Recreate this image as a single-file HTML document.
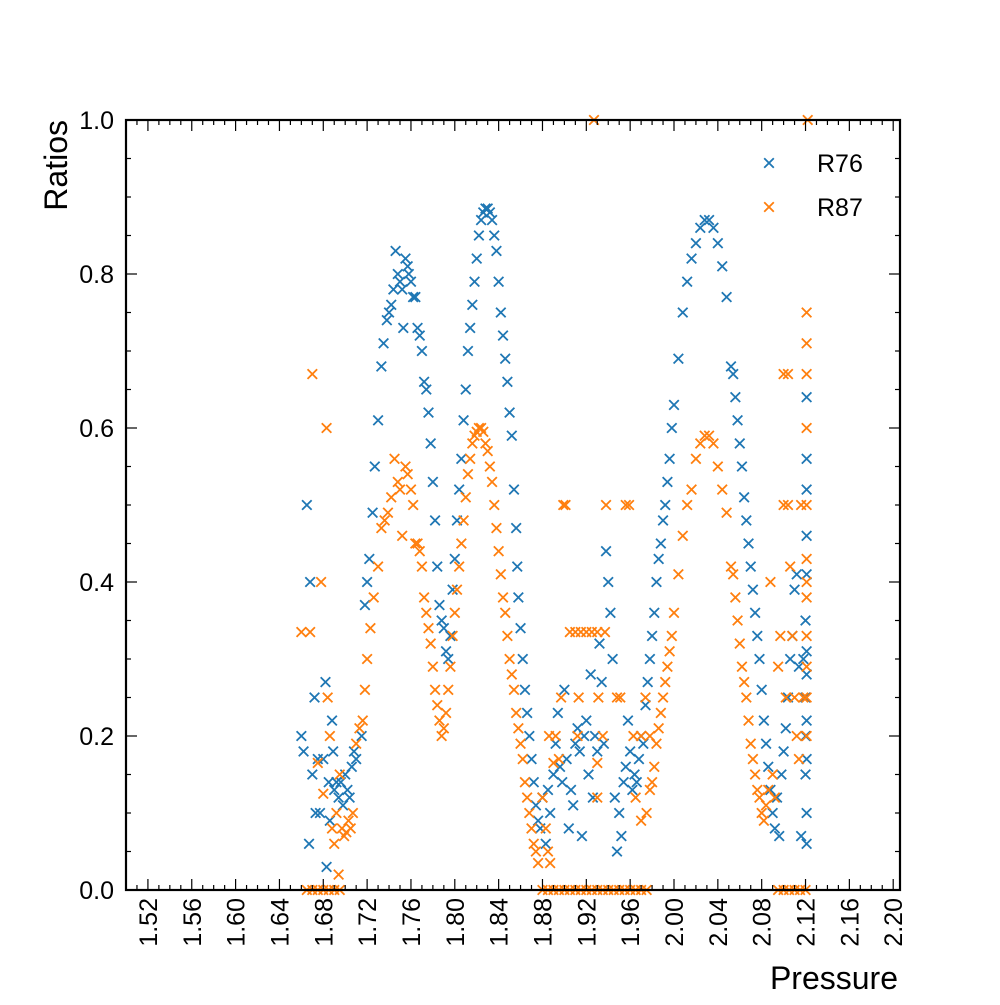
<!DOCTYPE html>
<html><head><meta charset="utf-8"><style>
body{margin:0;background:#fff}
svg text{font-family:"Liberation Sans",sans-serif;fill:#000}
</style></head><body>
<svg id="chart" width="1000" height="1000" xmlns="http://www.w3.org/2000/svg">
<g id="marks"></g><g id="axes"></g>
</svg>
<script>
const xTickLabels=["1.52","1.56","1.60","1.64","1.68","1.72","1.76","1.80","1.84","1.88","1.92","1.96","2.00","2.04","2.08","2.12","2.16","2.20"];
const yTickLabels=["0.0","0.2","0.4","0.6","0.8","1.0"];
const seriesNames=["R76","R87"];
const r76=[[1.660,0.20],[1.662,0.18],[1.665,0.50],[1.667,0.06],[1.668,0.40],[1.670,0.15],[1.672,0.25],[1.673,0.10],[1.675,0.17],[1.677,0.10],[1.680,0.17],[1.682,0.27],[1.683,0.03],[1.685,0.14],[1.686,0.09],[1.688,0.22],[1.689,0.18],[1.690,0.13],[1.692,0.14],[1.694,0.12],[1.696,0.14],[1.698,0.11],[1.700,0.15],[1.702,0.13],[1.704,0.12],[1.706,0.16],[1.708,0.18],[1.710,0.17],
[1.715,0.20],[1.718,0.37],[1.720,0.40],[1.722,0.43],[1.725,0.49],[1.727,0.55],[1.730,0.61],[1.733,0.68],[1.735,0.71],[1.738,0.74],[1.740,0.75],[1.742,0.76],[1.744,0.78],[1.746,0.83],[1.748,0.80],[1.750,0.79],[1.752,0.78],[1.753,0.73],[1.755,0.82],[1.757,0.81],[1.758,0.80],[1.760,0.79],[1.762,0.77],[1.764,0.77],[1.766,0.73],[1.768,0.72],[1.770,0.70],[1.772,0.66],[1.774,0.65],[1.776,0.62],[1.778,0.58],[1.780,0.53],[1.782,0.48],[1.784,0.42],[1.786,0.37],[1.788,0.35],[1.790,0.34],[1.792,0.31],[1.794,0.30],[1.796,0.33],[1.798,0.39],[1.800,0.43],[1.802,0.48],[1.804,0.52],[1.806,0.56],[1.808,0.61],[1.810,0.65],[1.812,0.70],[1.814,0.73],[1.816,0.76],[1.818,0.79],[1.820,0.82],[1.822,0.85],[1.824,0.87],[1.826,0.88],[1.828,0.885],[1.830,0.885],[1.832,0.88],[1.834,0.87],[1.836,0.85],[1.838,0.83],[1.840,0.79],[1.842,0.75],[1.844,0.72],[1.846,0.69],[1.848,0.66],[1.850,0.62],[1.852,0.59],[1.854,0.52],[1.856,0.47],[1.857,0.42],[1.858,0.38],[1.860,0.34],[1.862,0.30],[1.864,0.26],[1.866,0.23],[1.868,0.20],[1.870,0.17],[1.872,0.14],[1.874,0.11],[1.876,0.09],[1.878,0.08],
[1.880,0.12],[1.883,0.06],[1.885,0.13],[1.887,0.10],[1.890,0.15],[1.892,0.19],[1.894,0.23],[1.896,0.16],[1.898,0.14],[1.900,0.26],[1.902,0.17],[1.904,0.08],[1.906,0.13],[1.908,0.11],[1.910,0.19],[1.912,0.21],[1.914,0.18],[1.916,0.07],[1.918,0.20],[1.920,0.22],[1.922,0.15],[1.924,0.28],[1.926,0.12],[1.928,0.20],[1.930,0.18],[1.932,0.32],[1.934,0.27],[1.936,0.19],[1.938,0.44],[1.940,0.40],[1.942,0.36],[1.944,0.30],[1.946,0.12],[1.948,0.05],[1.950,0.10],[1.952,0.07],[1.954,0.14],[1.956,0.16],[1.958,0.22],[1.960,0.18],[1.962,0.13],[1.964,0.15],[1.966,0.14],[1.968,0.17],[1.970,0.20],[1.972,0.19],[1.974,0.24],[1.976,0.27],
[1.978,0.30],[1.980,0.33],[1.982,0.36],[1.984,0.40],[1.986,0.43],[1.988,0.45],[1.990,0.48],[1.992,0.50],[1.994,0.53],[1.996,0.56],[1.998,0.60],[2.000,0.63],[2.004,0.69],[2.008,0.75],[2.012,0.79],[2.016,0.82],[2.020,0.84],[2.024,0.86],[2.028,0.87],[2.032,0.87],[2.036,0.86],[2.040,0.84],[2.044,0.81],[2.048,0.77],[2.052,0.68],[2.054,0.67],[2.056,0.64],[2.058,0.61],[2.060,0.58],[2.062,0.55],[2.064,0.51],[2.066,0.48],[2.068,0.45],[2.070,0.42],[2.072,0.39],[2.074,0.36],[2.076,0.33],[2.078,0.30],[2.080,0.26],[2.082,0.22],[2.084,0.19],[2.086,0.16],[2.088,0.13],[2.090,0.10],[2.092,0.08],[2.094,0.12],[2.096,0.07],[2.098,0.15],[2.100,0.18],[2.102,0.21],[2.104,0.25],[2.106,0.30],[2.108,0.33],[2.110,0.39],[2.112,0.41],[2.114,0.29],[2.116,0.07],[2.118,0.30],[2.120,0.35],[2.120,0.25],[2.120,0.20],[2.120,0.15],[2.121,0.64],[2.121,0.56],[2.121,0.46],[2.121,0.41],[2.121,0.31],[2.121,0.10],[2.121,0.06],[2.121,0.52],[2.121,0.28],[2.121,0.22],[2.121,0.17]];
const r87=[[1.660,0.335],[1.668,0.335],[1.670,0.67],[1.675,0.165],[1.678,0.40],[1.680,0.125],[1.683,0.60],[1.684,0.25],[1.686,0.20],[1.688,0.08],[1.690,0.06],[1.692,0.10],[1.694,0.02],[1.695,0.15],[1.697,0.08],[1.699,0.07],[1.701,0.075],[1.703,0.09],[1.705,0.08],[1.707,0.10],[1.710,0.19],[1.713,0.21],[1.716,0.22],[1.718,0.26],[1.720,0.30],[1.723,0.34],[1.726,0.38],[1.730,0.42],[1.733,0.47],[1.736,0.48],[1.739,0.49],[1.742,0.51],[1.745,0.56],[1.748,0.53],[1.750,0.52],[1.752,0.46],[1.755,0.55],[1.757,0.54],[1.760,0.52],[1.762,0.50],[1.764,0.45],[1.766,0.45],[1.768,0.44],[1.770,0.42],[1.772,0.38],[1.774,0.36],[1.776,0.34],[1.778,0.32],[1.780,0.29],[1.782,0.26],[1.784,0.24],[1.786,0.22],[1.788,0.20],[1.790,0.21],[1.792,0.23],[1.794,0.26],[1.796,0.29],[1.798,0.33],[1.800,0.36],[1.802,0.39],[1.804,0.42],[1.806,0.45],[1.808,0.48],[1.810,0.51],[1.812,0.54],[1.814,0.56],[1.816,0.58],[1.818,0.59],[1.820,0.595],[1.822,0.60],[1.824,0.60],[1.826,0.595],[1.828,0.58],[1.830,0.57],[1.832,0.55],[1.834,0.53],[1.836,0.50],[1.838,0.47],[1.840,0.44],[1.842,0.41],[1.844,0.38],[1.846,0.36],[1.848,0.33],[1.850,0.30],[1.852,0.28],[1.854,0.26],[1.856,0.23],[1.858,0.21],[1.860,0.19],[1.862,0.17],[1.864,0.14],[1.866,0.12],[1.868,0.10],[1.870,0.08],[1.872,0.06],[1.874,0.05],[1.876,0.035],
[1.665,0],[1.670,0],[1.675,0],[1.680,0],[1.685,0],[1.690,0],[1.695,0],
[1.880,0.12],[1.883,0.08],[1.885,0.05],[1.887,0.035],[1.899,0.50],[1.901,0.50],[1.938,0.50],[1.956,0.50],[1.959,0.50],[1.905,0.335],[1.910,0.335],[1.915,0.335],[1.920,0.335],[1.925,0.335],[1.930,0.335],[1.937,0.335],[1.897,0.25],[1.913,0.25],[1.931,0.25],[1.948,0.25],[1.951,0.25],[1.974,0.25],[1.886,0.20],[1.892,0.20],[1.912,0.20],[1.935,0.20],[1.963,0.20],[1.970,0.20],[1.978,0.20],[1.890,0.165],[1.895,0.17],[1.930,0.165],[1.930,0.12],[1.965,0.12],[1.970,0.09],[1.975,0.10],[1.927,1.0],
[1.880,0],[1.885,0],[1.890,0],[1.895,0],[1.900,0],[1.905,0],[1.910,0],[1.915,0],[1.920,0],[1.925,0],[1.930,0],[1.935,0],[1.940,0],[1.945,0],[1.950,0],[1.955,0],[1.960,0],[1.965,0],[1.970,0],[1.975,0],
[1.978,0.13],[1.980,0.14],[1.982,0.16],[1.984,0.19],[1.986,0.21],[1.988,0.23],[1.990,0.25],[1.992,0.27],[1.994,0.29],[1.996,0.31],[1.998,0.33],[2.000,0.36],[2.004,0.41],[2.008,0.46],[2.012,0.50],[2.016,0.52],[2.020,0.56],[2.024,0.58],[2.028,0.59],[2.032,0.59],[2.036,0.58],[2.040,0.55],[2.044,0.52],[2.048,0.49],[2.052,0.42],[2.054,0.41],[2.056,0.38],[2.058,0.35],[2.060,0.32],[2.062,0.29],[2.064,0.27],[2.066,0.25],[2.068,0.22],[2.070,0.19],[2.072,0.17],[2.074,0.15],[2.076,0.13],[2.078,0.12],[2.080,0.10],[2.082,0.09],[2.084,0.11],[2.086,0.13],[2.088,0.40],[2.090,0.15],[2.092,0.12],[2.095,0.29],[2.097,0.33],[2.100,0.67],[2.100,0.50],[2.102,0.25],[2.104,0.67],[2.104,0.50],[2.106,0.42],[2.108,0.33],[2.110,0.25],[2.112,0.20],[2.114,0.17],[2.116,0.50],[2.118,0.25],[2.121,0.75],[2.121,0.71],[2.121,0.67],[2.121,0.60],[2.121,0.50],[2.121,0.43],[2.121,0.40],[2.121,0.38],[2.121,0.33],[2.121,0.29],[2.121,0.25],[2.121,0.20],[2.122,1.0],
[2.095,0],[2.100,0],[2.105,0],[2.110,0],[2.115,0],[2.120,0]];

const NS="http://www.w3.org/2000/svg";
const L=126,R=900,T=120,B=890,XMIN=1.5,XMAX=1.5+(900-126)/1096;
const sx=v=>L+(v-XMIN)/(XMAX-XMIN)*(R-L);
const sy=v=>B-v*(B-T);
function mk(tag,attrs,parent){const e=document.createElementNS(NS,tag);for(const k in attrs)e.setAttribute(k,attrs[k]);parent.appendChild(e);return e;}
const marks=document.getElementById('marks'),axes=document.getElementById('axes');
const colors=["#1f77b4","#ff7f0e"];
function cross(x,y,c,parent){const s=4.8;return mk('path',{d:`M${x-s},${y-s}L${x+s},${y+s}M${x-s},${y+s}L${x+s},${y-s}`,stroke:c,'stroke-width':1.8,fill:'none'},parent);}
[r76,r87].forEach((data,si)=>{
  const g=mk('g',{},marks);
  
  
  data.forEach(d=>{const p=cross(sx(d[0]),sy(d[1]),colors[si],g);
    
    });
});
const fr=mk('rect',{x:L,y:T,width:R-L,height:B-T,fill:'none',stroke:'#000','stroke-width':2.2},axes);


for(let i=0;i<=70;i++){const v=1.5+i*0.01;if(v>XMAX)break;const x=sx(v);const major=(i%4===2);const len=major?11:5;
  mk('line',{x1:x,x2:x,y1:B,y2:B-len,stroke:'#000','stroke-width':1.2},axes);
  mk('line',{x1:x,x2:x,y1:T,y2:T+len,stroke:'#000','stroke-width':1.2},axes);}
xTickLabels.forEach(t=>{const x=sx(parseFloat(t));const e=mk('text',{x:0,y:0,'font-size':25,'text-anchor':'end',transform:`translate(${x+9},${B+8}) rotate(-90)`},axes);e.textContent=t;
  
  });
for(let i=0;i<=20;i++){const v=i*0.05;const y=sy(v);const major=(i%4===0);const len=major?11:5;
  mk('line',{x1:L,x2:L+len,y1:y,y2:y,stroke:'#000','stroke-width':1.2},axes);
  mk('line',{x1:R,x2:R-len,y1:y,y2:y,stroke:'#000','stroke-width':1.2},axes);}
yTickLabels.forEach(t=>{const y=sy(parseFloat(t));const e=mk('text',{x:114,y:y+9,'font-size':25,'text-anchor':'end'},axes);e.textContent=t;
  
  });
const xt=mk('text',{x:898,y:989,'font-size':32,'text-anchor':'end'},axes);xt.textContent="Pressure";


const yt=mk('text',{x:0,y:0,'font-size':32,'text-anchor':'end',transform:'translate(67,120) rotate(-90)'},axes);yt.textContent="Ratios";


seriesNames.forEach((n,i)=>{const y=163+i*44;const g=mk('g',{},axes);
  
  
  cross(769,y,colors[i],g);const t=mk('text',{x:817,y:y+9,'font-size':25},g);t.textContent=n;});
</script>
</body></html>
